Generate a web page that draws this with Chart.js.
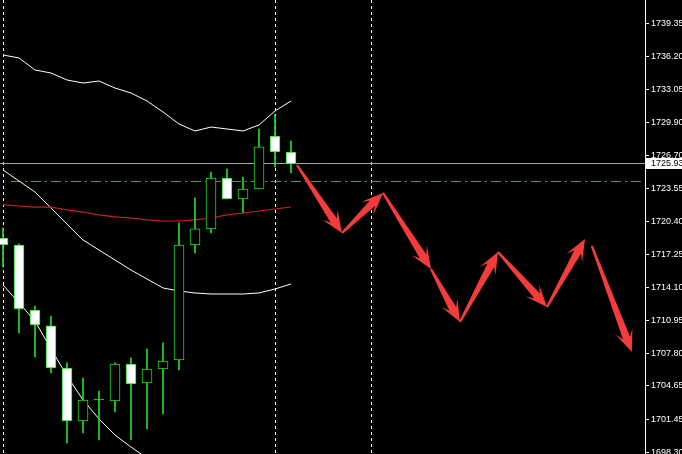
<!DOCTYPE html>
<html>
<head>
<meta charset="utf-8">
<script src="https://cdn.jsdelivr.net/npm/chart.js@4.4.0/dist/chart.umd.min.js"></script>
<style>
  html, body { margin:0; padding:0; background:#000; }
  #wrap { width:682px; height:454px; position:relative; }
</style>
</head>
<body>
<div id="wrap"><canvas id="c"></canvas></div>
<script>
// ---- candles (bar index 0..18) ----
const opens  = [1718.83, 1718.16, 1711.93, 1710.40, 1706.37, 1701.29, 1703.30, 1703.20, 1706.75, 1704.93, 1706.27, 1707.14, 1718.16, 1719.70, 1724.58, 1722.57, 1723.53, 1728.61, 1727.08];
const highs  = [1719.79, 1718.26, 1712.31, 1711.35, 1706.85, 1705.41, 1704.16, 1706.85, 1707.33, 1708.19, 1708.77, 1720.27, 1722.67, 1725.16, 1725.45, 1724.68, 1729.28, 1730.63, 1728.13];
const lows   = [1716.05, 1709.72, 1707.42, 1705.89, 1699.18, 1700.14, 1699.46, 1702.15, 1699.46, 1700.52, 1701.96, 1706.18, 1717.39, 1719.31, 1722.57, 1721.23, 1723.53, 1725.64, 1725.06];
const closes = [1718.16, 1712.02, 1710.49, 1706.37, 1701.29, 1703.30, 1703.30, 1706.75, 1704.83, 1706.27, 1707.04, 1718.16, 1719.70, 1724.58, 1722.57, 1723.53, 1727.56, 1727.08, 1725.93];

// ---- indicator lines ----
const bandUpper = [1736.38, 1736.09, 1734.94, 1734.65, 1733.98, 1733.69, 1733.88, 1733.21, 1732.73, 1731.97, 1730.91, 1729.76, 1729.09, 1729.47, 1729.28, 1729.09, 1729.67, 1731.01, 1731.97];
const bandMid   = [1722.00, 1721.90, 1721.80, 1721.80, 1721.52, 1721.32, 1721.04, 1720.85, 1720.75, 1720.56, 1720.46, 1720.46, 1720.56, 1720.75, 1721.04, 1721.23, 1721.42, 1721.61, 1721.80];
const bandLower = [1725.35, 1724.30, 1723.24, 1721.71, 1720.17, 1718.64, 1717.68, 1716.72, 1715.76, 1714.90, 1714.04, 1713.75, 1713.56, 1713.46, 1713.46, 1713.46, 1713.56, 1713.94, 1714.42];
const envLower  = [1714.33, 1712.60, 1710.87, 1708.19, 1705.60, 1703.30, 1701.48, 1699.94, 1698.79, 1697.74, 1696.78];

// ---- axis / levels ----
const yTicks = [1698.30, 1701.45, 1704.65, 1707.80, 1710.95, 1714.10, 1717.25, 1720.40, 1723.55, 1726.70, 1729.90, 1733.05, 1736.20, 1739.35];
const separators = [0, 17, 23];
const bidPrice = 1725.93;
const levelPrice = 1724.30;

// ---- forecast arrows (null = break) ----
const arrowX = [18.375, 21.19, 23.75, 26.75, 28.56, 30.94, 34.0, 36.375, null, 36.8, 39.3];
const arrowY = [1725.83, 1719.31, 1723.15, 1715.86, 1710.78, 1717.49, 1712.22, 1718.74, null, 1718.07, 1707.90];

const GREEN = '#22dd22';
const FONT = 'Liberation Sans';
const idx = opens.map((_, i) => i);
const asPoints = arr => arr.map((v, i) => ({x: i, y: v}));

const bodyColors = idx.map(i => closes[i] > opens[i] ? '#000000' : (closes[i] < opens[i] ? '#ffffff' : GREEN));

// tapered arrow, thin at the tail, barbed head at the tip
function drawArrow(ctx, x1, y1, x2, y2) {
  const len = Math.hypot(x2 - x1, y2 - y1);
  const ux = (x2 - x1) / len, uy = (y2 - y1) / len;
  const nx = -uy, ny = ux;
  const hl = Math.min(22, len * 0.45), hw = 9, neck = 3.8, tail = 1.1;
  const bx = x2 - ux * hl, by = y2 - uy * hl;
  const kx = x2 - ux * hl * 0.68, ky = y2 - uy * hl * 0.68;
  ctx.beginPath();
  ctx.moveTo(x1 + nx * tail, y1 + ny * tail);
  ctx.lineTo(kx + nx * neck, ky + ny * neck);
  ctx.lineTo(bx + nx * hw, by + ny * hw);
  ctx.lineTo(x2, y2);
  ctx.lineTo(bx - nx * hw, by - ny * hw);
  ctx.lineTo(kx - nx * neck, ky - ny * neck);
  ctx.lineTo(x1 - nx * tail, y1 - ny * tail);
  ctx.closePath();
  ctx.fill();
}

const overlay = {
  id: 'overlay',
  beforeDatasetsDraw(chart) {
    const {ctx, chartArea: a, scales: {x, y}} = chart;
    ctx.save();
    ctx.beginPath();
    ctx.rect(a.left, a.top, a.right - a.left, a.bottom - a.top);
    ctx.clip();
    // period separators
    ctx.strokeStyle = '#ffffff';
    ctx.lineWidth = 1;
    ctx.setLineDash([3, 3]);
    separators.forEach(s => {
      const px = Math.round(x.getPixelForValue(s)) + 0.5;
      ctx.beginPath(); ctx.moveTo(px, a.top); ctx.lineTo(px, a.bottom); ctx.stroke();
    });
    // level line (dash-dot)
    let py = Math.round(y.getPixelForValue(levelPrice)) + 0.5;
    ctx.strokeStyle = '#3f9f3f';
    ctx.setLineDash([10, 4, 2, 4]);
    ctx.beginPath(); ctx.moveTo(x.getPixelForValue(0) + 8, py); ctx.lineTo(a.right, py); ctx.stroke();
    // bid line
    py = Math.round(y.getPixelForValue(bidPrice)) - 0.5;
    ctx.strokeStyle = '#a8a8a8';
    ctx.setLineDash([]);
    ctx.beginPath(); ctx.moveTo(a.left, py); ctx.lineTo(a.right, py); ctx.stroke();
    ctx.restore();
  },
  afterDatasetsDraw(chart) {
    const {ctx, scales: {x, y}} = chart;
    ctx.save();
    ctx.fillStyle = '#f43c3c';
    for (let i = 1; i < arrowX.length; i++) {
      if (arrowX[i] == null || arrowX[i - 1] == null) continue;
      drawArrow(ctx,
        x.getPixelForValue(arrowX[i - 1]), y.getPixelForValue(arrowY[i - 1]),
        x.getPixelForValue(arrowX[i]), y.getPixelForValue(arrowY[i]));
    }
    ctx.restore();
  },
  afterDraw(chart) {
    const {ctx, chartArea: a, scales: {y}} = chart;
    const py = Math.round(y.getPixelForValue(bidPrice));
    ctx.save();
    ctx.fillStyle = '#ffffff';
    ctx.fillRect(a.right + 1, py - 6, chart.width - a.right, 11);
    ctx.fillStyle = '#000000';
    ctx.font = '9px "' + FONT + '"';
    ctx.textBaseline = 'middle';
    ctx.fillText(bidPrice.toFixed(2), a.right + 6, py);
    ctx.restore();
  }
};

new Chart(document.getElementById('c'), {
  type: 'bar',
  data: {
    datasets: [
      {
        label: 'body',
        data: idx.map(i => ({x: i, y: [opens[i], closes[i]]})),
        backgroundColor: bodyColors,
        borderColor: GREEN,
        borderWidth: 1,
        borderSkipped: false,
        barThickness: 10,
        minBarLength: 1,
        grouped: false,
        order: 1
      },
      {
        label: 'wick',
        data: idx.map(i => ({x: i, y: [lows[i], highs[i]]})),
        backgroundColor: GREEN,
        borderWidth: 0,
        barThickness: 1,
        grouped: false,
        order: 2
      },
      {type: 'line', label: 'upper', data: asPoints(bandUpper), borderColor: '#ffffff', borderWidth: 1, pointRadius: 0, order: 3},
      {type: 'line', label: 'mid', data: asPoints(bandMid), borderColor: '#d01c1c', borderWidth: 1.2, pointRadius: 0, order: 3},
      {type: 'line', label: 'lower', data: asPoints(bandLower), borderColor: '#ffffff', borderWidth: 1, pointRadius: 0, order: 3},
      {type: 'line', label: 'env', data: asPoints(envLower), borderColor: '#ffffff', borderWidth: 1, pointRadius: 0, order: 3}
    ]
  },
  options: {
    responsive: true,
    maintainAspectRatio: false,
    animation: false,
    events: [],
    layout: {padding: 0},
    plugins: {legend: {display: false}, tooltip: {enabled: false}},
    scales: {
      x: {
        type: 'linear',
        display: false,
        offset: false,
        min: -0.1875,
        max: 40.125
      },
      y: {
        position: 'right',
        min: 1698.12,
        max: 1741.65,
        afterBuildTicks: s => { s.ticks = yTicks.map(v => ({value: v})); },
        afterFit: s => { s.width = 37; s.paddingTop = 0; s.paddingBottom = 0; },
        grid: {drawOnChartArea: false, drawTicks: true, tickLength: 4, color: '#ffffff'},
        border: {display: true, color: '#ffffff', width: 1},
        ticks: {
          color: '#ffffff',
          padding: 2,
          autoSkip: false,
          font: {family: FONT, size: 9},
          callback: v => Number(v).toFixed(2)
        }
      }
    }
  },
  plugins: [overlay]
});
</script>
</body>
</html>
